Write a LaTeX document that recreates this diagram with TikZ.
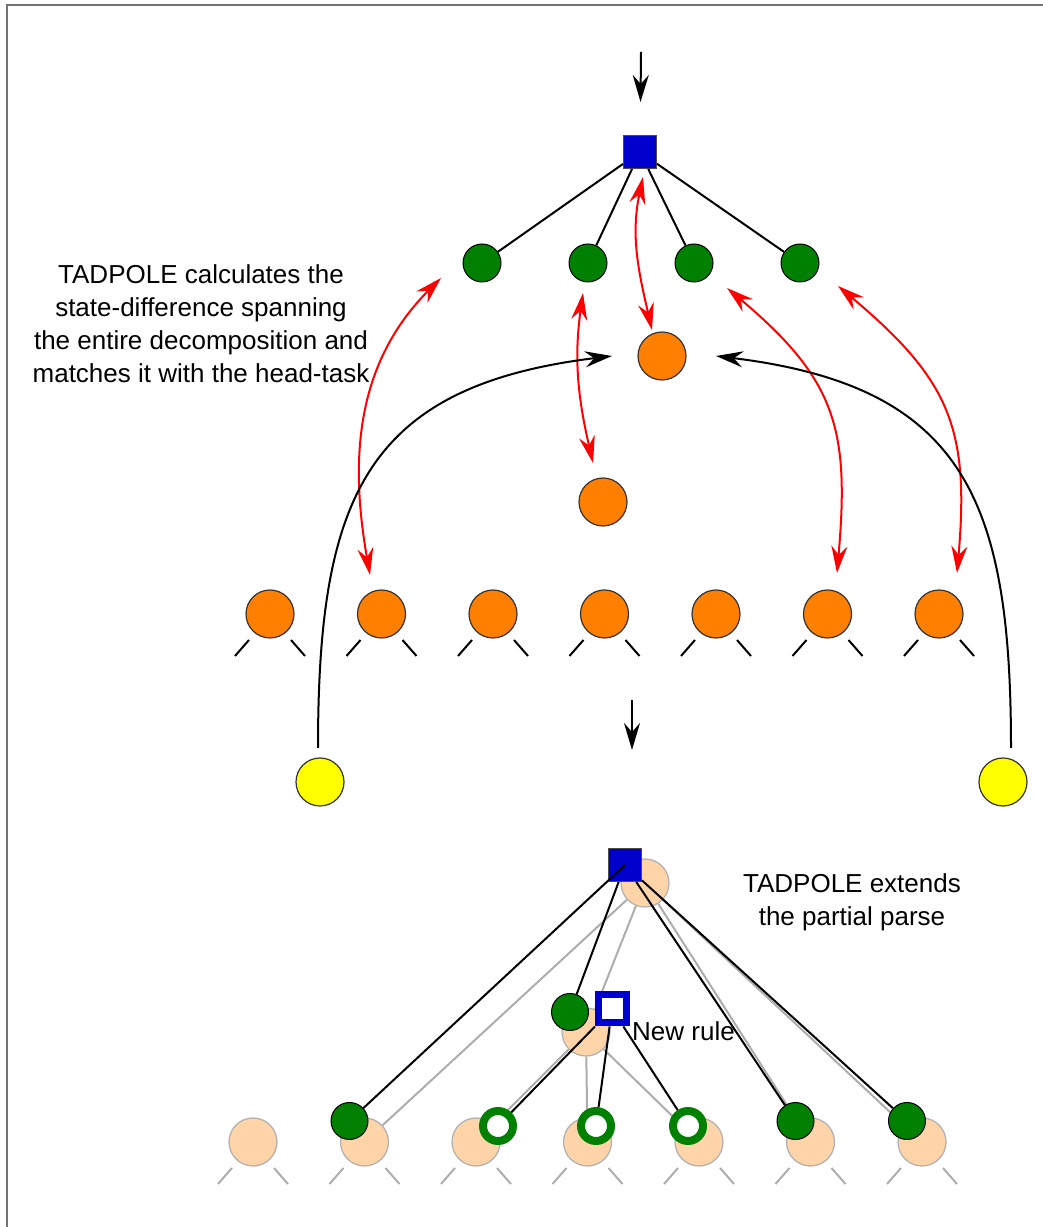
\documentclass[tikz,border=0pt]{standalone}
\usepackage{fontspec}
\setmainfont{Liberation Sans}
\usetikzlibrary{arrows.meta,positioning}
\definecolor{taskblue}{RGB}{0,0,205}
\definecolor{leafgreen}{RGB}{0,128,0}
\definecolor{stateorange}{RGB}{255,128,0}
\definecolor{goalyellow}{RGB}{255,255,0}
\definecolor{ghostpeach}{RGB}{255,212,168}

\begin{document}
\begin{tikzpicture}[x=1pt,y=1pt,
    every node/.style={font=\fontsize{26}{33}\selectfont},
    task/.style={draw=black!70, fill=taskblue, minimum size=33, inner sep=0, line width=1},
    newtask/.style={draw=taskblue, fill=white, minimum size=28, inner sep=0, line width=7},
    leaf/.style={circle, draw=black, fill=leafgreen, minimum size=37, inner sep=0, line width=1},
    hole/.style={circle, draw=leafgreen, fill=white, minimum size=30, inner sep=0, line width=8},
    state/.style={circle, draw=black!80, fill=stateorange, minimum size=48, inner sep=0, line width=1.2},
    goal/.style={circle, draw=black!80, fill=goalyellow, minimum size=48, inner sep=0, line width=1.2},
    ghost/.style={circle, draw=black!30, fill=ghostpeach, minimum size=48, inner sep=0, line width=1.3},
    link/.style={line width=2},
    leg/.style={line width=2},
    ghostlink/.style={line width=2, draw=black!32},
    flow/.style={-{Stealth[length=27pt,width=16pt,inset=9pt]}, line width=2},
    match/.style={{Stealth[length=27pt,width=16pt,inset=9pt]}-{Stealth[length=27pt,width=16pt,inset=9pt]}, line width=2, draw=red},
    note/.style={align=center, inner sep=0}
]
    \useasboundingbox (0,0) rectangle (1043,1227);
    \draw[line width=2, black!55] (6.5,0) -- (6.5,1222) -- (1043,1222);

    % decomposition before the match
    \node[task] (sq1) at (640,1075) {};
    \foreach \n/\x in {1/482,2/588,3/694,4/800}
        \node[leaf, minimum size=38] (g\n) at (\x,964) {};
    \node[state] (o1) at (662,871) {};
    \node[state] (o2) at (603,725) {};
    \foreach \i in {1,...,7}
        \node[state] (r\i) at ({270+111.5*(\i-1)},613) {};
    \node[goal] (y1) at (320,445) {};
    \node[goal] (y2) at (1003,445) {};

    \foreach \i in {1,...,7} {
        \draw[leg] ([shift={(-21,-26)}]r\i.center) -- ++(-14,-16);
        \draw[leg] ([shift={(21,-26)}]r\i.center) -- ++(14,-16);
    }
    \foreach \n in {1,...,4}
        \draw[link] (sq1) -- (g\n);

    \coordinate (intop) at (641,1175);
    \draw[flow, shorten >=33pt] (intop) -- (sq1);

    \draw[match] ([shift={(-11.5,39)}]r2.center) to[out=100,in=225] ([shift={(-41,-15)}]g1.center);
    \draw[match] ([shift={(-10,39)}]o2.center) to[out=103,in=262] ([shift={(-5,-30)}]g2.center);
    \draw[match] ([shift={(-10,26)}]o1.center) to[out=103,in=258] ([shift={(3,-25)}]sq1.center);
    \draw[match] ([shift={(9.5,41)}]r6.center) to[out=85,in=320,looseness=1.2] ([shift={(33,-25)}]g3.center);
    \draw[match] ([shift={(18,41)}]r7.center) to[out=85,in=320,looseness=1.2] ([shift={(38,-23)}]g4.center);

    \draw[flow] ([shift={(-2,34)}]y1.center) to[out=90,in=187,looseness=1.3] ([xshift=-50]o1.center);
    \draw[flow] ([shift={(8,34)}]y2.center) to[out=90,in=353,looseness=1.3] ([xshift=54]o1.center);

    \node[note] (calc) at (201,903.5) {TADPOLE calculates the\\state-difference spanning\\the entire decomposition and\\matches it with the head-task};

    \coordinate (stepa) at (632,527);
    \coordinate (stepb) at (632,477);
    \draw[flow] (stepa) -- (stepb);

    % extended partial parse
    \node[ghost] (p0) at (645,344) {};
    \node[ghost] (pm) at (586,195) {};
    \foreach \i in {1,...,7}
        \node[ghost] (b\i) at ({253+111.5*(\i-1)},85) {};
    \foreach \i in {1,...,7} {
        \draw[ghostlink] ([shift={(-21,-26)}]b\i.center) -- ++(-14,-16);
        \draw[ghostlink] ([shift={(21,-26)}]b\i.center) -- ++(14,-16);
    }
    \foreach \t in {b2,pm,b6,b7}
        \draw[ghostlink] (p0) -- (\t);
    \foreach \t in {b3,b4,b5}
        \draw[ghostlink] (pm) -- (\t);

    \node[task] (sq2) at (625,362) {};
    \node[leaf] (gm) at (570,215) {};
    \node[newtask] (nt) at (612,218) {};
    \node[leaf] (c2) at (349.5,106) {};
    \node[leaf] (c6) at (795.5,106) {};
    \node[leaf] (c7) at (907,106) {};
    \node[hole] (h3) at (498,101) {};
    \node[hole] (h4) at (596,101) {};
    \node[hole] (h5) at (688,101) {};

    \draw[link] (sq2.center) -- (c2);
    \foreach \t in {gm,c6,c7}
        \draw[link] (sq2) -- (\t);
    \foreach \t in {h3,h4,h5}
        \draw[link] (nt) -- (\t);

    \node[anchor=base west, inner sep=0] (rule) at (632,186) {New rule};
    \node[note] (ext) at (852,325) {TADPOLE extends\\the partial parse};
\end{tikzpicture}
\end{document}
